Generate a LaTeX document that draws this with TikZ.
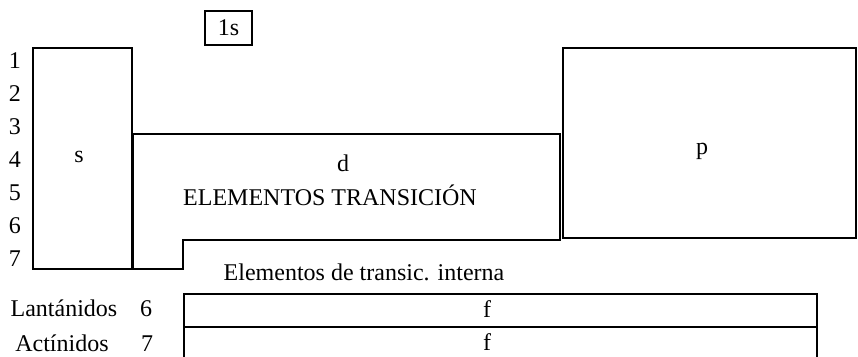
\documentclass[tikz,border=0pt]{standalone}
\usepackage{fontspec}
\setmainfont{Liberation Serif}
\usetikzlibrary{positioning}

\begin{document}
\begin{tikzpicture}[
    x=0.5pt, y=-0.5pt,
    font=\fontsize{12}{14}\selectfont,
    heavy/.style={line width=1.3pt},
    light/.style={line width=0.8pt},
    lbl/.style={anchor=base, inner sep=0pt},
    framebox/.style={draw, heavy, inner sep=0pt, minimum width=23.5pt, minimum height=17pt},
]
\useasboundingbox (0,0) rectangle (858,357);

% ======== BLOCKS ========
\draw[heavy] (33,48) rectangle (132,269);   % s block
\draw[light] (133,134) -- (560,134) -- (560,240) -- (183,240) -- (183,269) -- (133,269) -- cycle; % d block
\draw[heavy] (563,48) rectangle (856,238);  % p block
\node[framebox] (ones) at (228.5,28) {1s};

% f rows (open at the bottom edge)
\draw[heavy] (184,364) -- (184,294) -- (817,294) -- (817,364);
\draw[light] (184,327) -- (817,327);

% ======== BLOCK LABELS ========
\node[lbl] (stxt) at (79,163) {s};
\node[lbl] (dtxt) at (343,172) {d};
\node[lbl] (dname) at (330,206) {ELEMENTOS TRANSICIÓN};
\node[lbl] (ptxt) at (702,155) {p};
\node[lbl] (inner) at (364,281) {Elementos de transic. interna};
\node[lbl] (flan) at (487,318) {f};
\node[lbl] (fact) at (487,351) {f};

% ======== PERIODS ========
\node[lbl] (r1) at (15,69) {1};
\node[lbl] (r2) at (15,102) {2};
\node[lbl] (r3) at (15,135) {3};
\node[lbl] (r4) at (15,168) {4};
\node[lbl] (r5) at (15,201) {5};
\node[lbl] (r6) at (15,234) {6};
\node[lbl] (r7) at (15,267) {7};

\node[lbl] (lant) at (64,317) {Lantánidos};
\node[lbl] (lant6) at (146,317) {6};
\node[lbl] (act) at (62,352) {Actínidos};
\node[lbl] (act7) at (147,352) {7};

\end{tikzpicture}
\end{document}
